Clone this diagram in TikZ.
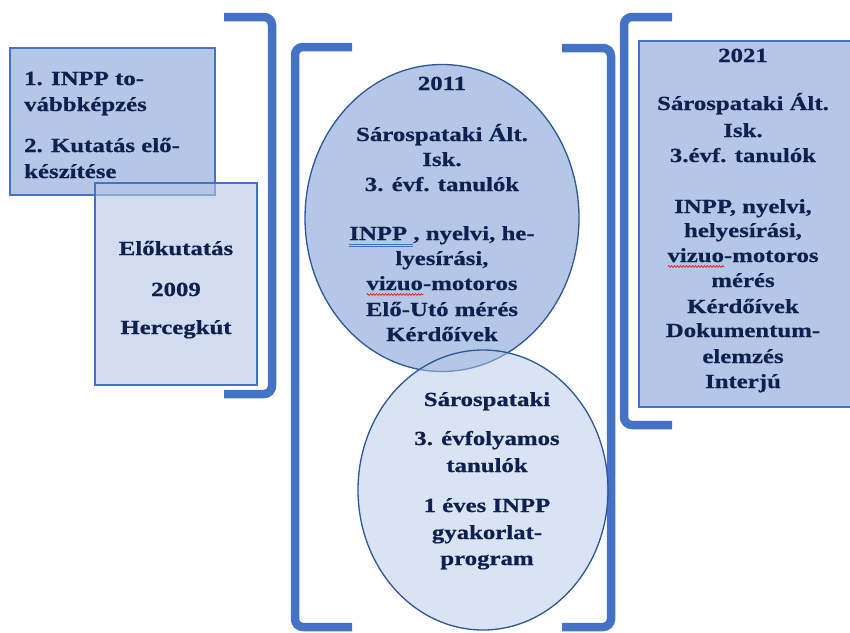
\documentclass[tikz,border=0pt]{standalone}
\usepackage{fontspec}
\setmainfont{Liberation Serif}[FakeStretch=1.24,BoldFeatures={FakeBold=0.6}]
\usetikzlibrary{shapes.geometric,decorations.pathmorphing}
\definecolor{brk}{HTML}{4472C4}
\definecolor{edgeblue}{HTML}{2F5597}
\definecolor{fillA}{HTML}{B4C7E7}
\definecolor{ink}{RGB}{14,32,78}
\definecolor{ulblue}{HTML}{4472C4}
\newlength\myulw
\newcommand\dblblue[1]{\settowidth\myulw{#1}\rlap{\textcolor{ulblue}{\rule[-4.4pt]{\myulw}{0.8pt}\hspace{-\myulw}\rule[-6.6pt]{\myulw}{0.8pt}}}#1}
\newcommand\wavered[1]{\settowidth\myulw{#1}\rlap{\tikz[baseline=0pt,x=1pt,y=1pt]\draw[red,line width=0.6pt,decoration={zigzag,segment length=3pt,amplitude=0.9pt},decorate] (0pt,-4.5pt) -- (\myulw,-4.5pt);}#1}
\begin{document}
\begin{tikzpicture}[x=1pt,y=-1pt,
  bracket/.style={draw=brk,line width=8.5pt,rounded corners=8pt},
  box/.style={draw=brk,line width=1.8pt,fill=fillA,inner sep=0pt},
  oval/.style={ellipse,draw=edgeblue,line width=1.3pt,fill=fillA,inner sep=0pt},
  txt/.style={text=ink,font=\bfseries\fontsize{20}{24}\selectfont,inner sep=0pt,anchor=base},
  txtl/.style={txt,anchor=base west}]
\useasboundingbox (0,0) rectangle (850,632);

% boxes
\node[box,minimum width=205pt,minimum height=147pt] (r1) at (112.5,121.5) {};
\node[box,fill opacity=0.62,minimum width=162pt,minimum height=202pt] (r2) at (176,284) {};
\node[box,minimum width=212pt,minimum height=366pt] (r3) at (745,224) {};

% brackets
\draw[bracket] (224,17) -- (272,17) -- (272,394) -- (224,394);
\draw[bracket] (352,47) -- (295,47) -- (295,627) -- (352,627);
\draw[bracket] (562,48) -- (611,48) -- (611,627) -- (562,627);
\draw[bracket] (672,17) -- (624,17) -- (624,425) -- (672,425);

% ellipses
\node[oval,minimum width=274pt,minimum height=307pt] (e1) at (442,218) {};
\node[oval,fill opacity=0.5,minimum width=250pt,minimum height=280pt] (e2) at (483,490) {};

% texts
\foreach \yy/\ltext [count=\i] in {85/{1. INPP to-},111/{vábbképzés},152/{2. Kutatás elő-},178/{készítése}}
  \node[txtl] (ta\i) at (24,\yy) {\ltext};

\foreach \yy/\ltext [count=\i] in {255/{Előkutatás},296/{2009},334/{Hercegkút}}
  \node[txt] (tb\i) at (176,\yy) {\ltext};

\foreach \yy/\ltext [count=\i] in {90/{2011},141/{Sárospataki Ált.},166/{Isk.},191/{3. évf. tanulók},240/{\dblblue{INPP\ }, nyelvi, he-},265/{lyesírási,},290/{\wavered{vizuo}-motoros},316/{Elő-Utó mérés},341/{Kérdőívek}}
  \node[txt] (tc\i) at (442,\yy) {\ltext};

\foreach \yy/\ltext [count=\i] in {406/{Sárospataki},445/{3. évfolyamos},472/{tanulók},512/{1 éves INPP},539/{gyakorlat-},565/{program}}
  \node[txt] (td\i) at (487,\yy) {\ltext};

\foreach \yy/\ltext [count=\i] in {62/{2021},110/{Sárospataki Ált.},137/{Isk.},162/{3.évf. tanulók},213/{INPP, nyelvi,},237/{helyesírási,},262/{\wavered{vizuo}-motoros},287/{mérés},313/{Kérdőívek},337/{Dokumentum-},363/{elemzés},388/{Interjú}}
  \node[txt] (te\i) at (743,\yy) {\ltext};
\end{tikzpicture}
\end{document}
